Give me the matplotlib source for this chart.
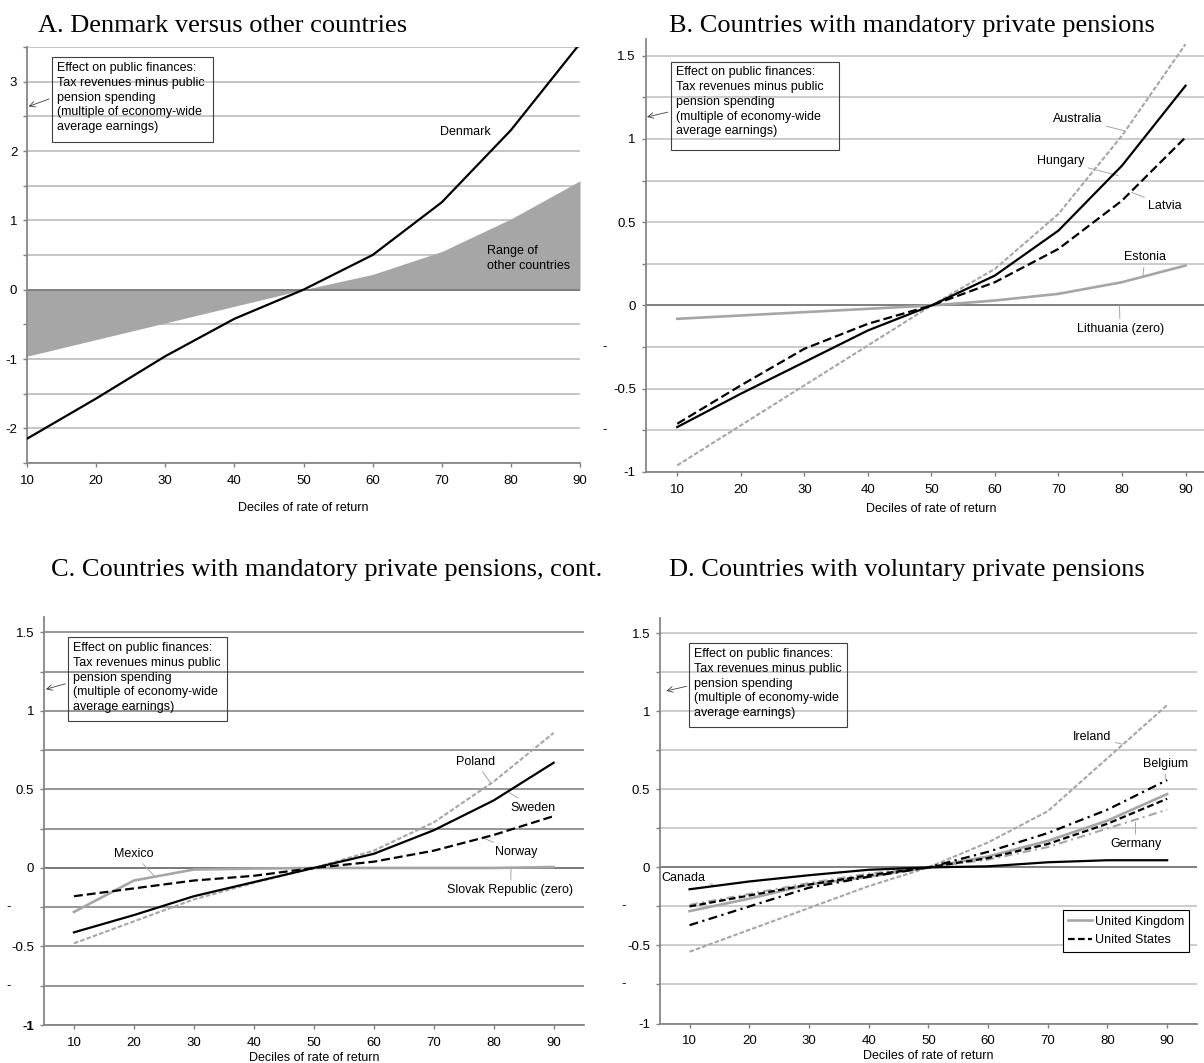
import numpy as np
import matplotlib
matplotlib.use("Agg")
import matplotlib.pyplot as plt
from matplotlib.patches import Rectangle, FancyArrowPatch
from matplotlib.lines import Line2D

plt.rcParams['font.family'] = ['Liberation Sans', 'DejaVu Sans']

# deciles of the rate of return
deciles = [10, 20, 30, 40, 50, 60, 70, 80, 90]

# A. Denmark versus the range of the other countries
denmark = [-2.15, -1.57, -0.96, -0.42, 0.0, 0.50, 1.26, 2.30, 3.55]
others_low = [-0.96, -0.72, -0.48, -0.24, 0.0, 0.0, 0.0, 0.0, 0.0]
others_high = [0.0, 0.0, 0.0, 0.0, 0.0, 0.22, 0.55, 1.02, 1.57]

# B. mandatory private pensions
australia = [-0.96, -0.72, -0.48, -0.24, 0.0, 0.22, 0.55, 1.02, 1.57]
hungary = [-0.73, -0.53, -0.34, -0.15, 0.0, 0.18, 0.45, 0.84, 1.32]
latvia = [-0.71, -0.48, -0.26, -0.11, 0.0, 0.14, 0.34, 0.63, 1.01]
estonia = [-0.08, -0.06, -0.04, -0.02, 0.0, 0.03, 0.07, 0.14, 0.24]

# C. mandatory private pensions, cont.
poland = [-0.48, -0.34, -0.20, -0.095, 0.0, 0.11, 0.29, 0.55, 0.86]
sweden = [-0.41, -0.30, -0.18, -0.09, 0.0, 0.09, 0.24, 0.43, 0.67]
norway = [-0.18, -0.13, -0.08, -0.05, 0.0, 0.04, 0.11, 0.21, 0.33]
mexico = [-0.28, -0.08, -0.01, -0.004, 0.0, 0.0, 0.0, 0.0, 0.006]

# D. voluntary private pensions
ireland = [-0.54, -0.40, -0.26, -0.12, 0.0, 0.16, 0.36, 0.70, 1.04]
belgium = [-0.37, -0.25, -0.13, -0.06, 0.0, 0.10, 0.22, 0.37, 0.56]
uk = [-0.28, -0.20, -0.11, -0.06, 0.0, 0.07, 0.17, 0.30, 0.47]
us = [-0.25, -0.18, -0.11, -0.05, 0.0, 0.06, 0.15, 0.28, 0.44]
germany = [-0.24, -0.17, -0.10, -0.04, 0.0, 0.05, 0.13, 0.25, 0.37]
canada = [-0.14, -0.09, -0.05, -0.015, 0.0, 0.007, 0.033, 0.046, 0.046]

titles = ["A. Denmark versus other countries",
          "B. Countries with mandatory private pensions",
          "C. Countries with mandatory private pensions, cont.",
          "D. Countries with voluntary private pensions"]
note = ("Effect on public finances:\nTax revenues minus public\n"
        "pension spending\n(multiple of economy-wide\naverage earnings)")
xlab = "Deciles of rate of return"

GREY = '#a6a6a6'
W, H = 1204, 1063
fig = plt.figure(figsize=(W / 100, H / 100), dpi=100)


def px_axes(l, r, t, b):
    return fig.add_axes([l / W, 1 - b / H, (r - l) / W, (b - t) / H])


def fx(x):
    return x / W


def fy(y):
    return 1 - y / H


def style(ax, xlim, ylim, yticks, labelled, grid, labelpad, dash_x=None):
    ax.set_xlim(*xlim)
    ax.set_ylim(*ylim)
    ax.set_xticks(deciles)
    ax.set_yticks(yticks)
    ax.set_yticklabels(['%g' % t if round(t, 2) in labelled else '' for t in yticks])
    ax.tick_params(labelsize=9.5, colors='#808080', labelcolor='black', length=3, width=1)
    ax.tick_params(axis='y', pad=4)
    ax.tick_params(axis='x', pad=5.5)
    for s in ['top', 'right']:
        ax.spines[s].set_visible(False)
    for s in ['left', 'bottom']:
        ax.spines[s].set_color('#868686')
        ax.spines[s].set_linewidth(1.3)
    ax.yaxis.grid(True, color=grid, lw=1.3)
    ax.set_axisbelow(True)
    ax.axhline(0, color='#7a7a7a', lw=1.3, zorder=2)
    ax.set_xlabel(xlab, fontsize=9, labelpad=labelpad)
    if dash_x is not None:
        for v in (-0.25, -0.75):
            ax.text(dash_x, v, '-', transform=ax.get_yaxis_transform(),
                    ha='center', va='center', fontsize=9.5)


def note_box(l, r, t, b, tip, tail_y):
    fig.add_artist(Rectangle((fx(l), fy(b)), fx(r) - fx(l), fy(t) - fy(b),
                             transform=fig.transFigure, fill=False,
                             ec='#404040', lw=0.8))
    fig.text(fx(l + 5), fy(t + 5), note, fontsize=9, va='top', ha='left',
             linespacing=1.3)
    fig.add_artist(FancyArrowPatch((fx(l), fy(tail_y)), (fx(tip[0]), fy(tip[1])),
                                   transform=fig.transFigure,
                                   arrowstyle='->,head_length=4,head_width=2',
                                   color='#404040', lw=0.6))


def label(ax, text, xytext, xy=None):
    if xy is None:
        ax.text(*xytext, text, fontsize=9, ha='center', va='center')
    else:
        ax.annotate(text, xy=xy, xytext=xytext, fontsize=9, ha='center', va='center',
                    arrowprops=dict(arrowstyle='-', color=GREY, lw=0.7,
                                    shrinkA=1, shrinkB=0))


# ---- panel A ----
axA = px_axes(27, 580, 47, 463)
style(axA, (10, 90), (-2.5, 3.5), np.arange(-2.5, 3.51, 0.5), [-2, -1, 0, 1, 2, 3],
      '#c0c0c0', 11)
axA.fill_between(deciles, others_low, others_high, color='#a6a6a6', lw=0, zorder=1)
axA.plot(deciles, denmark, color='black', lw=1.6, zorder=3)
label(axA, "Denmark", (73.4, 2.28))
axA.text(76.5, 0.45, "Range of\nother countries", fontsize=9, ha='left', va='center',
         linespacing=1.25)

# ---- panel B ----
axB = px_axes(645.5, 1217.3, 39.1, 472)
style(axB, (5, 95), (-1, 1.6), np.arange(-1, 1.51, 0.25), [-1, -0.5, 0, 0.5, 1, 1.5],
      '#c8c8c8', 5, dash_x=-0.0715)
axB.plot(deciles, estonia, color=GREY, lw=1.9, zorder=3)
axB.plot(deciles, australia, color=GREY, lw=1.5, dashes=(2.2, 1), zorder=3)
axB.plot(deciles, latvia, color='black', lw=1.6, dashes=(4, 1.8), zorder=4)
axB.plot(deciles, hungary, color='black', lw=1.6, zorder=4)
label(axB, "Australia", (73.0, 1.12), (80.3, 1.05))
label(axB, "Hungary", (70.3, 0.87), (79.4, 0.78))
label(axB, "Latvia", (86.8, 0.60), (81.5, 0.68))
label(axB, "Estonia", (83.6, 0.29), (83.3, 0.18))
label(axB, "Lithuania (zero)", (79.7, -0.14), (79.6, 0.0))

# ---- panel C ----
axC = px_axes(44, 583.6, 616.7, 1025)
style(axC, (5, 95), (-1, 1.6), np.arange(-1, 1.51, 0.25), [-1, -0.5, 0, 0.5, 1, 1.5],
      '#8e8e8e', 2, dash_x=-0.066)
axC.get_yticklabels()[0].set_fontweight('bold')
axC.plot(deciles, mexico, color=GREY, lw=1.9, zorder=3)
axC.plot(deciles, poland, color=GREY, lw=1.5, dashes=(2.2, 1), zorder=3)
axC.plot(deciles, norway, color='black', lw=1.6, dashes=(4, 1.8), zorder=4)
axC.plot(deciles, sweden, color='black', lw=1.6, zorder=4)
label(axC, "Poland", (77.0, 0.676), (79.5, 0.54))
label(axC, "Sweden", (86.6, 0.385), (82.6, 0.48))
label(axC, "Norway", (83.7, 0.104), (78.3, 0.19))
label(axC, "Mexico", (20.0, 0.089), (23.6, -0.06))
label(axC, "Slovak Republic (zero)", (82.8, -0.14), (82.9, 0.0))

# ---- panel D ----
axD = px_axes(659.7, 1197, 617.7, 1023.5)
style(axD, (5, 95), (-1, 1.6), np.arange(-1, 1.51, 0.25), [-1, -0.5, 0, 0.5, 1, 1.5],
      '#c8c8c8', 2, dash_x=-0.0666)
axD.plot(deciles, ireland, color=GREY, lw=1.5, dashes=(2.2, 1), zorder=3)
axD.plot(deciles, germany, color=GREY, lw=1.5, dashes=(4, 2, 1, 2), zorder=3)
axD.plot(deciles, uk, color=GREY, lw=1.9, zorder=3)
axD.plot(deciles, us, color='black', lw=1.6, dashes=(3, 1.5), zorder=4)
axD.plot(deciles, belgium, color='black', lw=1.6, dashes=(4, 2, 1, 2), zorder=4)
axD.plot(deciles, canada, color='black', lw=1.6, zorder=4)
label(axD, "Ireland", (77.4, 0.833), (82.5, 0.79))
label(axD, "Belgium", (89.7, 0.663), (89.7, 0.57))
label(axD, "Germany", (84.7, 0.148), (84.7, 0.29))
label(axD, "Canada", (9.0, -0.065), (13.9, -0.11))
handles = [Line2D([], [], color=GREY, lw=1.9),
           Line2D([], [], color='black', lw=1.6, dashes=(3, 1.5))]
leg = axD.legend(handles, ["United Kingdom", "United States"], loc='upper left',
                 bbox_to_anchor=(0.7385, 0.2947), fontsize=9, fancybox=False,
                 edgecolor='black', framealpha=1, handlelength=1.9,
                 handletextpad=0.2, labelspacing=0.5, borderpad=0.45)
leg.get_frame().set_linewidth(0.8)

# note boxes and titles
note_box(51.7, 213.2, 57.4, 141.9, (26, 107.4), 98)
note_box(670.5, 838.8, 61.5, 150.3, (644.3, 117.6), 111.5)
note_box(68.1, 226.6, 637.1, 721, (43.2, 690), 683)
note_box(689.4, 846.5, 643.2, 727.1, (663.6, 691.5), 685.7)

for (x, y), t in zip([(38, 32), (669, 32), (51, 576), (669, 576)], titles):
    fig.text(fx(x), fy(y), t, family='Liberation Serif', fontsize=19,
             ha='left', va='baseline')

fig.savefig('out.png', dpi=100)
